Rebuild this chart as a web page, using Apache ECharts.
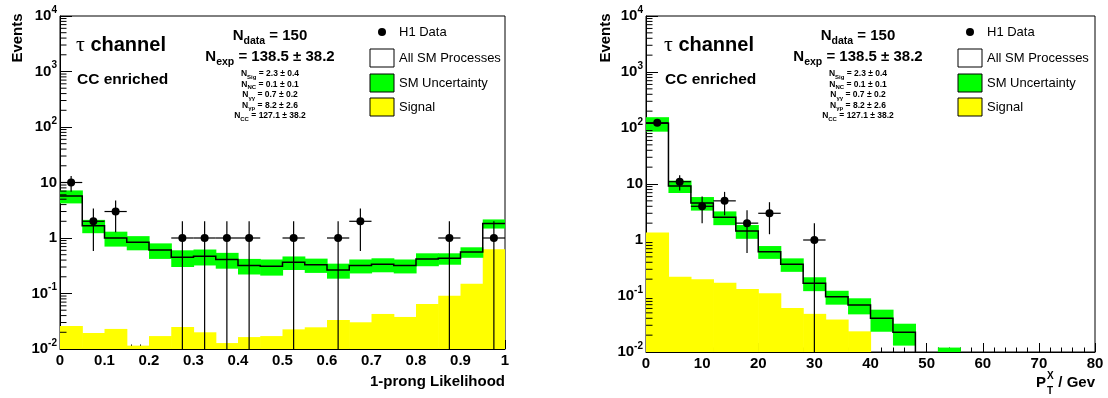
<!DOCTYPE html>
<html>
<head>
<meta charset="utf-8">
<script src="https://cdn.jsdelivr.net/npm/echarts@6/dist/echarts.min.js"></script>
<style>
  html, body { margin: 0; padding: 0; background: #fff; }
  #chart { width: 1108px; height: 398px; }
</style>
</head>
<body>
<div id="chart"></div>
<script>
// ---- 1-prong likelihood distribution: 20 bins on [0, 1] ----
const likelihoodRange = [0, 1];
const likelihoodBinWidth = 0.05;
const likelihoodData   = [10, 2, 3, 0, 0, 1, 1, 1, 1, 0, 1, 0, 1, 2, 0, 0, 0, 1, 0, 1];
const likelihoodSM     = [5.7, 1.67, 1.0, 0.84, 0.61, 0.45, 0.47, 0.41, 0.32, 0.31,
                          0.365, 0.33, 0.265, 0.32, 0.336, 0.32, 0.42, 0.43, 0.56, 1.82];
const likelihoodSMErr  = [1.5, 0.45, 0.3, 0.24, 0.19, 0.15, 0.15, 0.13, 0.10, 0.10,
                          0.10, 0.095, 0.08, 0.09, 0.095, 0.09, 0.11, 0.10, 0.12, 0.34];
const likelihoodSignal = [0.026, 0.0194, 0.023, 0.0115, 0.0171, 0.0249, 0.020, 0.0128, 0.0164, 0.0171,
                          0.0226, 0.0246, 0.0333, 0.0303, 0.0428, 0.0378, 0.0648, 0.091, 0.150, 0.625];

// ---- hadronic transverse momentum P_T^X: 20 bins of 4 GeV on [0, 80] ----
const ptRange = [0, 80];
const ptBinWidth = 4;
const ptData   = [124, 11, 4, 5, 2, 3, 0, 1, 0, 0, 0, 0, 0, 0, 0, 0, 0, 0, 0, 0];
const ptSM     = [121, 9.2, 4.6, 2.54, 1.45, 0.62, 0.37, 0.169, 0.097, 0.069,
                  0.040, 0.0225, 0, 0.007, 0, 0, 0, 0, 0, 0];
const ptSMErr  = [35, 2.3, 1.25, 0.7, 0.4, 0.16, 0.10, 0.047, 0.027, 0.022,
                  0.017, 0.0095, 0, 0.005, 0, 0, 0, 0, 0, 0];
const ptSignal = [1.36, 0.22, 0.199, 0.173, 0.133, 0.112, 0.061, 0.048, 0.038, 0.0234,
                  0, 0, 0, 0, 0, 0, 0, 0, 0, 0];

// ---- shared axis and annotation text ----
const yRange = [1e-2, 1e4];
const yMinorDecades = [-2, -1, 0, 1, 2, 3];
const yMinorMantissas = [2, 3, 4, 5, 6, 7, 8, 9];
const channelTitle = ['τ', ' channel'];
const selectionTitle = 'CC enriched';
const nDataText = '150';
const nExpText = '138.5 ± 38.2';
const statNames  = ['Sig', 'NC', 'γγ', 'γp', 'CC'];
const statValues = ['2.3 ± 0.4', '0.1 ± 0.1', '0.7 ± 0.2', '8.2 ± 2.6', '127.1 ± 38.2'];
const legendLabels = ['H1 Data', 'All SM Processes', 'SM Uncertainty', 'Signal'];

const FONT = '"Liberation Sans", Arial, Helvetica, sans-serif';
const SERIF = '"Liberation Serif", "Times New Roman", serif';
const GREEN = '#00ff00';
const YELLOW = '#ffff00';
const Y_MIN = yRange[0];

const panels = [
  {
    grid: { left: 60, top: 16, width: 445, height: 333 },
    range: likelihoodRange, interval: 0.1, binWidth: likelihoodBinWidth,
    data: likelihoodData, sm: likelihoodSM, smErr: likelihoodSMErr, signal: likelihoodSignal,
    xLabel: v => String(Math.round(v * 10) / 10), dx: 0
  },
  {
    grid: { left: 646, top: 16, width: 449, height: 336 },
    range: ptRange, interval: 10, binWidth: ptBinWidth,
    data: ptData, sm: ptSM, smErr: ptSMErr, signal: ptSignal,
    xLabel: v => String(v), dx: 588
  }
];

// filled rectangle spanning [x0,x1] x [lo,hi]
function rectRenderer(fill) {
  return function (params, api) {
    const lo = Math.max(api.value(2), Y_MIN);
    const a = api.coord([api.value(0), api.value(3)]);
    const b = api.coord([api.value(1), lo]);
    return {
      type: 'rect',
      shape: { x: a[0], y: a[1], width: b[0] - a[0] + 0.6, height: b[1] - a[1] },
      style: { fill: fill }
    };
  };
}

// outline of the SM histogram as a step line
function stepRenderer(p) {
  return function (params, api) {
    let last = -1;
    p.sm.forEach((v, k) => { if (v >= Y_MIN) last = k; });
    const pts = [];
    for (let k = 0; k <= last; k++) {
      const v = Math.max(p.sm[k], Y_MIN);
      const x0 = p.range[0] + k * p.binWidth;
      pts.push(api.coord([x0, v]), api.coord([x0 + p.binWidth, v]));
    }
    if (last < p.sm.length - 1) {
      pts.push(api.coord([p.range[0] + (last + 1) * p.binWidth, Y_MIN]));
    }
    return {
      type: 'polyline',
      shape: { points: pts },
      style: { stroke: '#000', lineWidth: 1.5, fill: null }
    };
  };
}

// data point with sqrt(N) vertical errors and bin-width horizontal bar
function pointRenderer(half) {
  return function (params, api) {
    const x = api.value(0), n = api.value(1), e = Math.sqrt(n);
    const c = api.coord([x, n]);
    const l = api.coord([x - half, n]);
    const r = api.coord([x + half, n]);
    const t = api.coord([x, n + e]);
    const b = api.coord([x, Math.max(n - e, Y_MIN)]);
    const ls = { stroke: '#000', lineWidth: 1.2 };
    return {
      type: 'group',
      children: [
        { type: 'line', shape: { x1: l[0], y1: l[1], x2: r[0], y2: r[1] }, style: ls },
        { type: 'line', shape: { x1: t[0], y1: t[1], x2: b[0], y2: b[1] }, style: ls },
        { type: 'circle', shape: { cx: c[0], cy: c[1], r: 4 }, style: { fill: '#000' } }
      ]
    };
  };
}

// minor ticks of the logarithmic axis (2..9 in each decade)
function minorTickRenderer(params, api) {
  const p = api.coord([api.value(0), api.value(1)]);
  return {
    type: 'line',
    shape: { x1: p[0], y1: p[1], x2: p[0] + 6.5, y2: p[1] },
    style: { stroke: '#000', lineWidth: 1 }
  };
}

const yMinorValues = [];
yMinorDecades.forEach(d => yMinorMantissas.forEach(m => yMinorValues.push(m * Math.pow(10, d))));

const grids = [], xAxes = [], yAxes = [], series = [], elements = [];

const labelRich = {
  b: { fontSize: 15, fontWeight: 'bold', fontFamily: FONT, color: '#000' },
  s: { fontSize: 10, fontWeight: 'bold', fontFamily: FONT, color: '#000', padding: [0, 0, 12, 0] }
};

function text(x, y, str, opts) {
  const st = Object.assign({
    text: str, fill: '#000', fontFamily: FONT, fontSize: 12, fontWeight: 'normal',
    align: 'left', textAlign: 'left', verticalAlign: 'middle', textVerticalAlign: 'middle'
  }, opts || {});
  if (st.align) st.textAlign = st.align;
  return { type: 'text', x: x, y: y, silent: true, z: 100, rotation: st._rot || 0, style: st };
}

panels.forEach((p, i) => {
  grids.push(Object.assign({
    show: true, borderColor: '#000', borderWidth: 1, backgroundColor: 'transparent',
    containLabel: false, outerBoundsMode: 'none'
  }, p.grid));

  xAxes.push({
    type: 'value', gridIndex: i, min: p.range[0], max: p.range[1], interval: p.interval,
    axisLine: { show: true, onZero: false, lineStyle: { color: '#000', width: 1 } },
    axisTick: { show: true, inside: true, length: 9, lineStyle: { color: '#000', width: 1 } },
    minorTick: { show: true, splitNumber: 5, length: 4.5, lineStyle: { color: '#000', width: 1 } },
    splitLine: { show: false }, minorSplitLine: { show: false },
    axisLabel: {
      show: true, margin: 4, color: '#000', fontSize: 15, fontWeight: 'bold', fontFamily: FONT,
      formatter: p.xLabel, showMinLabel: true, showMaxLabel: true
    }
  });

  yAxes.push({
    type: 'log', logBase: 10, gridIndex: i, min: yRange[0], max: yRange[1], splitNumber: 6,
    axisLine: { show: true, lineStyle: { color: '#000', width: 1 } },
    axisTick: { show: true, inside: true, length: 12, lineStyle: { color: '#000', width: 1 } },
    splitLine: { show: false },
    axisLabel: {
      show: true, margin: 3, interval: 0, showMinLabel: true, showMaxLabel: true,
      formatter: v => {
        const e = Math.round(Math.log10(v));
        if (e === 0) return '{b|1}';
        if (e === 1) return '{b|10}';
        return '{b|10}{s|' + e + '}';
      },
      rich: labelRich
    }
  });

  const w = p.binWidth, x0 = k => p.range[0] + k * w;
  const common = { type: 'custom', xAxisIndex: i, yAxisIndex: i, silent: true, clip: true, animation: false };

  series.push(Object.assign({}, common, {
    name: 'Signal', z: 1,
    data: p.signal.map((v, k) => [x0(k), x0(k + 1), Y_MIN, v]).filter(d => d[3] > 0),
    encode: { x: [0, 1], y: [2, 3] },
    renderItem: rectRenderer(YELLOW)
  }));
  series.push(Object.assign({}, common, {
    name: 'SM Uncertainty', z: 2,
    data: p.sm.map((v, k) => [x0(k), x0(k + 1), v - p.smErr[k], v + p.smErr[k]]).filter(d => d[3] > 0),
    encode: { x: [0, 1], y: [2, 3] },
    renderItem: rectRenderer(GREEN)
  }));
  series.push(Object.assign({}, common, {
    name: 'All SM Processes', z: 3,
    data: [[p.range[0], 1]],
    renderItem: stepRenderer(p)
  }));
  series.push(Object.assign({}, common, {
    name: 'H1 Data', z: 4, clip: false,
    data: p.data.map((n, k) => [x0(k) + w / 2, n]).filter(d => d[1] > 0),
    renderItem: pointRenderer(w / 2)
  }));
  series.push(Object.assign({}, common, {
    name: 'ticks', z: 5, clip: false,
    data: yMinorValues.map(v => [p.range[0], v]),
    renderItem: minorTickRenderer
  }));

  const dx = p.dx;
  // y axis title
  elements.push(text(18 + dx, 38, 'Events', {
    fontSize: 15, fontWeight: 'bold', align: 'center', _rot: Math.PI / 2
  }));
  // channel and selection
  elements.push(text(76 + dx, 45, '{t|' + channelTitle[0] + '}{c|' + channelTitle[1] + '}', {
    rich: {
      t: { fontFamily: SERIF, fontSize: 22, fill: '#000' },
      c: { fontFamily: FONT, fontSize: 20, fontWeight: 'bold', fill: '#000' }
    }
  }));
  elements.push(text(77 + dx, 80, selectionTitle, { fontSize: 15.5, fontWeight: 'bold' }));
  // event counts
  const bigRich = {
    n: { fontFamily: FONT, fontSize: 15, fontWeight: 'bold', fill: '#000' },
    s: { fontFamily: FONT, fontSize: 10.5, fontWeight: 'bold', fill: '#000', padding: [10, 0, 0, 0] }
  };
  elements.push(text(270 + dx, 36, '{n|N}{s|data}{n| = ' + nDataText + '}', { align: 'center', rich: bigRich }));
  elements.push(text(270 + dx, 57, '{n|N}{s|exp}{n| = ' + nExpText + '}', { align: 'center', rich: bigRich }));
  const smallRich = {
    n: { fontFamily: FONT, fontSize: 8.5, fontWeight: 'bold', fill: '#000' },
    s: { fontFamily: FONT, fontSize: 6, fontWeight: 'bold', fill: '#000', padding: [6, 0, 0, 0] }
  };
  statNames.forEach((nm, k) => {
    elements.push(text(270 + dx, 74 + k * 10.5, '{n|N}{s|' + nm + '}{n| = ' + statValues[k] + '}', {
      align: 'center', rich: smallRich
    }));
  });
  // legend
  elements.push({ type: 'circle', silent: true, z: 100, shape: { cx: 382 + dx, cy: 32, r: 4 }, style: { fill: '#000' } });
  [['#ffffff', 49], [GREEN, 74], [YELLOW, 98]].forEach(([fill, y]) => {
    elements.push({
      type: 'rect', silent: true, z: 100,
      shape: { x: 370 + dx, y: y, width: 24, height: 18 },
      style: { fill: fill, stroke: '#000', lineWidth: 1 }
    });
  });
  [32, 58, 83, 107].forEach((y, k) => {
    elements.push(text(399 + dx, y, legendLabels[k], { fontSize: 13 }));
  });
});

// x axis titles
elements.push(text(505, 382, '1-prong Likelihood', { fontSize: 15, fontWeight: 'bold', align: 'right' }));
elements.push(text(1095, 383, '/ Gev', { fontSize: 15, fontWeight: 'bold', align: 'right' }));
elements.push(text(1046, 383, 'P', { fontSize: 15, fontWeight: 'bold', align: 'right' }));
elements.push(text(1047, 376, 'X', { fontSize: 10, fontWeight: 'bold' }));
elements.push(text(1047, 391, 'T', { fontSize: 10, fontWeight: 'bold' }));

const chart = echarts.init(document.getElementById('chart'), null, { renderer: 'canvas' });
chart.setOption({
  animation: false,
  backgroundColor: '#fff',
  grid: grids,
  xAxis: xAxes,
  yAxis: yAxes,
  series: series,
  graphic: { elements: elements }
});
</script>
</body>
</html>
